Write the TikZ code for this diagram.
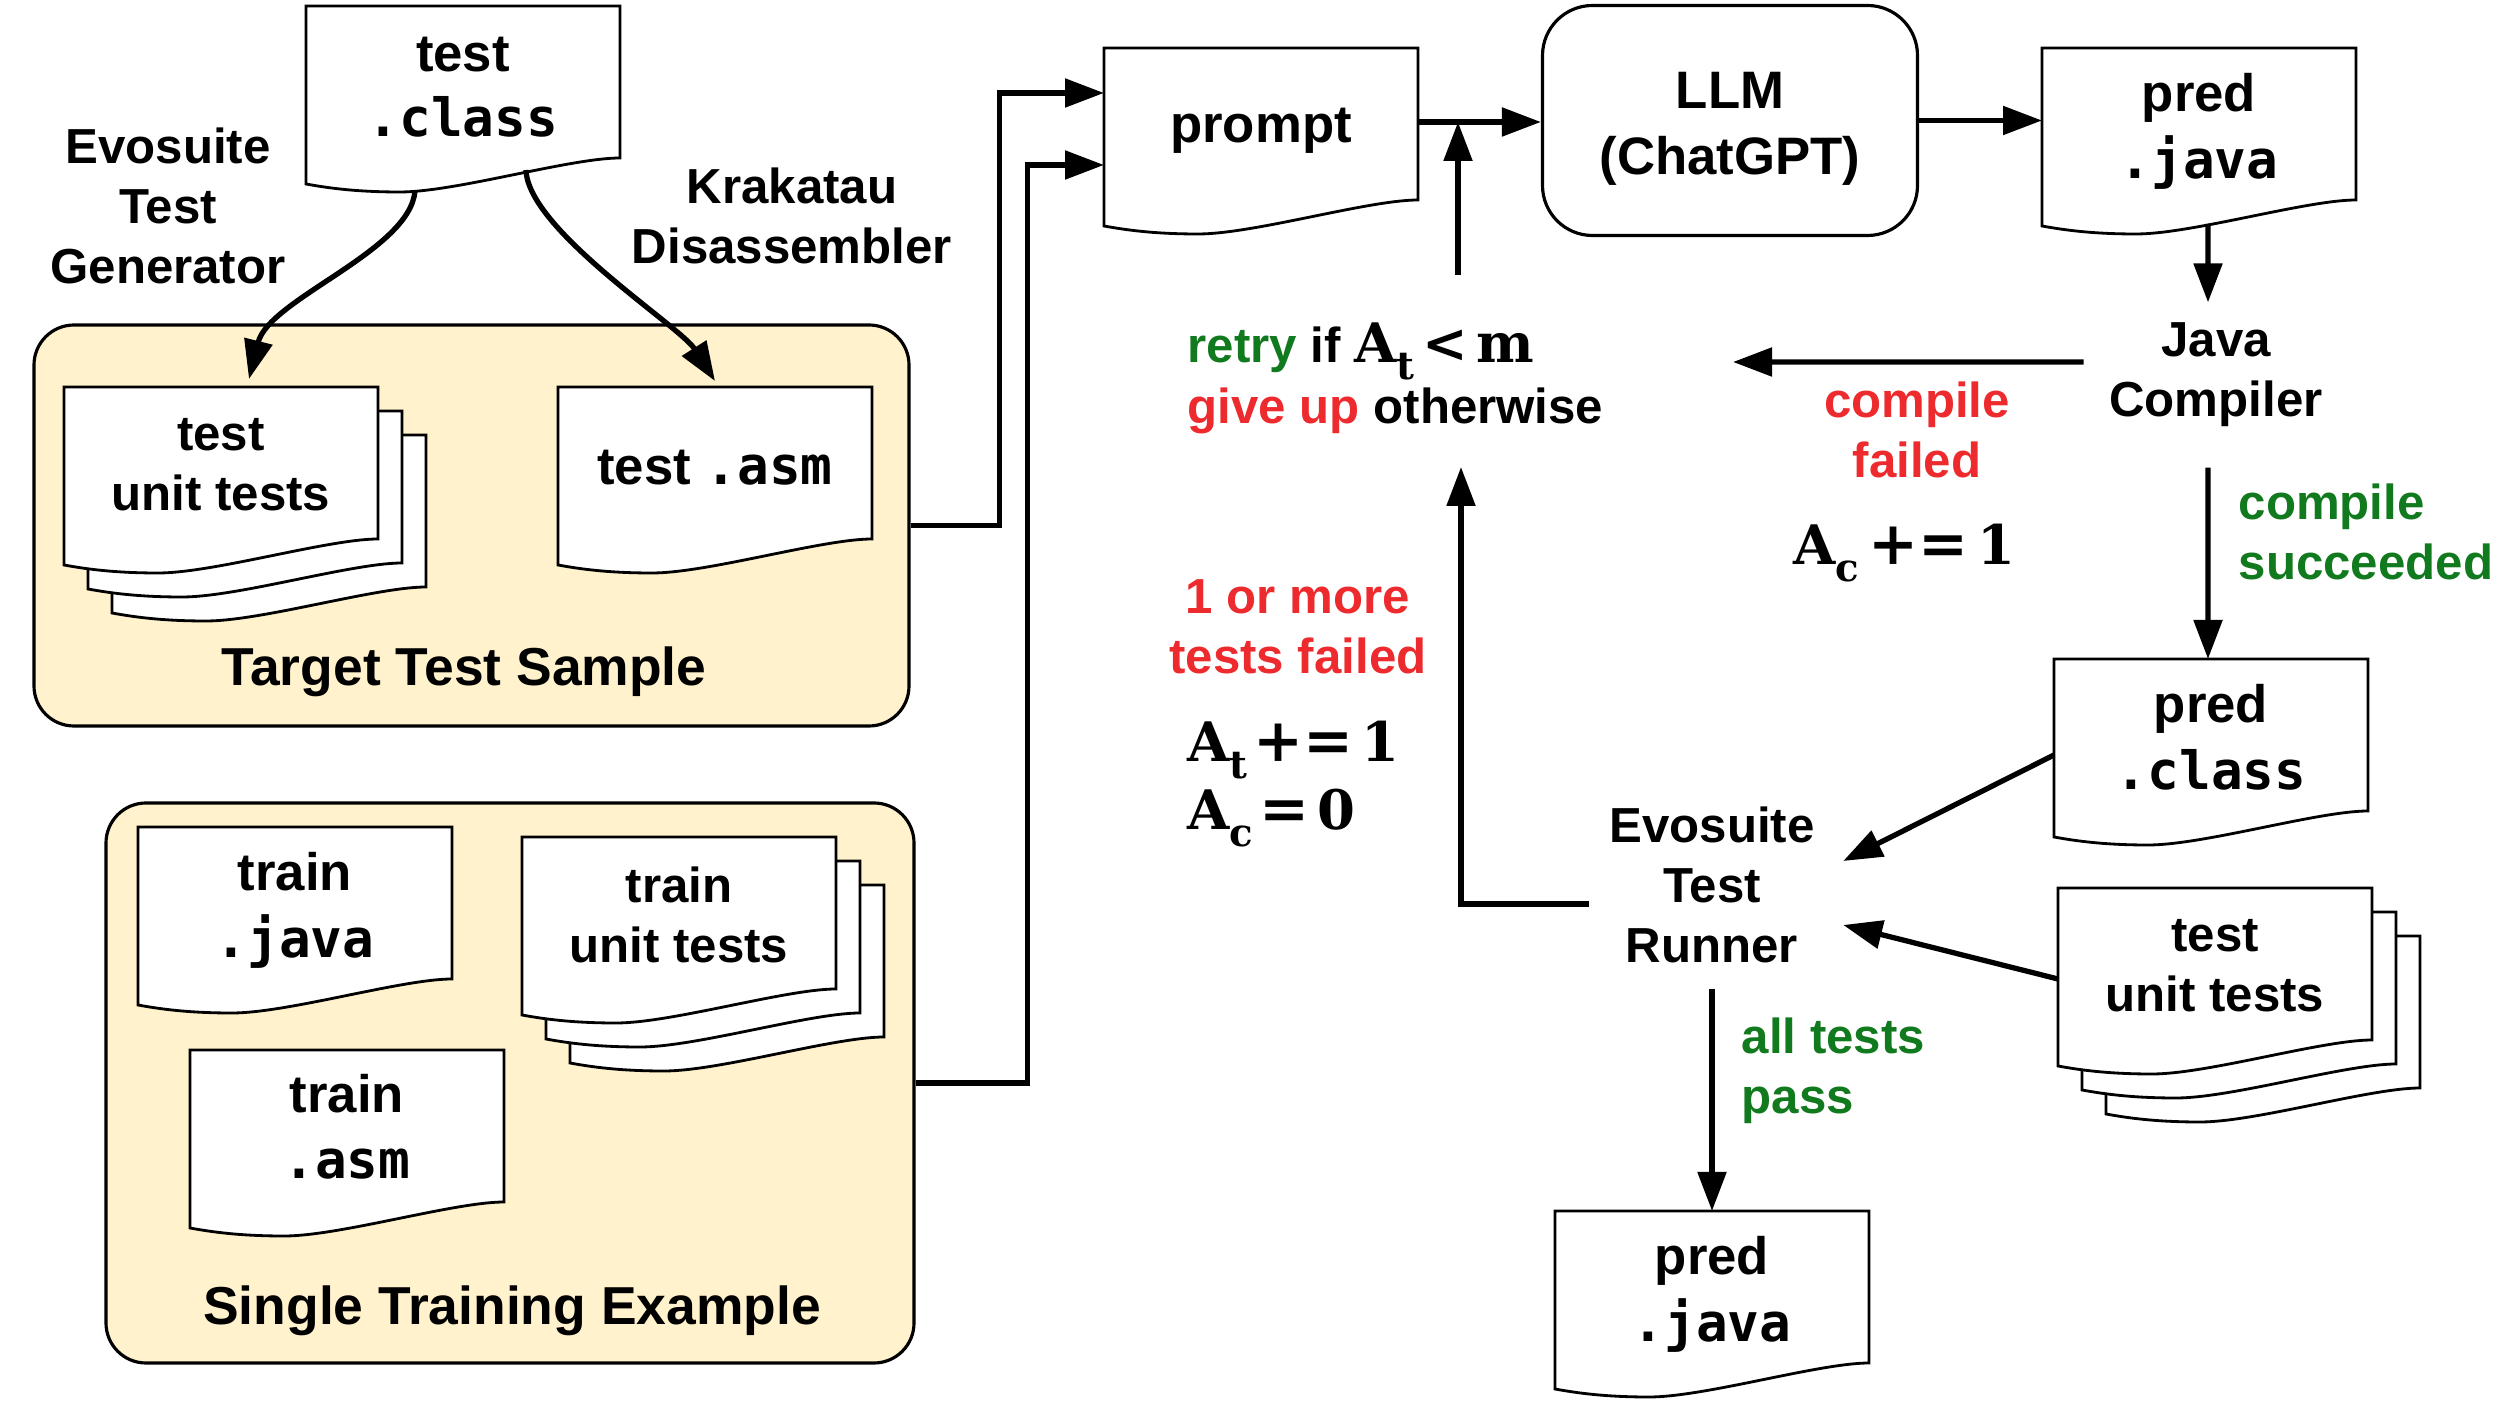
\documentclass[tikz,border=0pt]{standalone}
\usepackage[no-math]{fontspec}
\setmainfont{Liberation Sans}
\newfontfamily\monof{DejaVu Sans Mono}
\newfontfamily\serb{DejaVu Serif}
\usetikzlibrary{arrows.meta,calc}
\definecolor{rgreen}{HTML}{127A1E}
\definecolor{rred}{HTML}{ED2B2E}
\definecolor{cream}{HTML}{FFF2CC}
\pgfdeclarelayer{back}\pgfdeclarelayer{bg}\pgfsetlayers{back,bg,main}
\newcommand\mono[1]{{\monof\bfseries #1}}
\newcommand\mvar[2]{{\serb\bfseries\fontsize{15.5}{19}\selectfont #1\raisebox{-0.17cm}{\fontsize{11}{11}\selectfont #2}}}
\newcommand\mtxt[1]{{\serb\bfseries\fontsize{15.5}{19}\selectfont #1}}
\newcommand\mbig[1]{{\serb\bfseries\fontsize{17}{19}\selectfont #1}}
\newcommand\docout[2][0]{%
  \draw[docline] ($(#2.north west)+(0,#1)$) -- ($(#2.north east)+(0,#1)$) -- ($(#2.south east)+(0,0.04)$)
   .. controls ($(#2.south east)+(-0.5,0.04)$) and ($(#2.south west)+(1.5,-0.30)$) .. ($(#2.south west)+(0.94,-0.30)$)
   .. controls ($(#2.south west)+(0.5,-0.30)$) and ($(#2.south west)+(0.22,-0.26)$) .. ($(#2.south west)+(0,-0.22)$) -- cycle;}
\tikzset{
  txt/.style={font=\fontsize{14}{17}\selectfont\bfseries, align=center, inner sep=0.1cm},
  docnode/.style={font=\fontsize{15}{19}\selectfont\bfseries, align=center, minimum width=3.14cm, minimum height=1.46cm, outer sep=0pt, inner sep=0pt},
  stacknode/.style={docnode, minimum height=1.56cm, font=\fontsize{14}{17}\selectfont\bfseries},
  docline/.style={draw=black, line width=0.8pt, fill=white},
  grp/.style={draw=black, line width=0.9pt, fill=cream, rounded corners=0.4cm},
  grplabel/.style={font=\fontsize{15.2}{18}\selectfont\bfseries, inner sep=0.1cm},
  arr/.style={line width=1.5pt, -{Triangle[length=0.39cm,width=0.28cm]}},
  llmbox/.style={font=\fontsize{15}{19}\selectfont\bfseries, align=center, draw, line width=0.9pt, rounded corners=0.5cm, minimum width=3.75cm, minimum height=2.30cm},
}
\begin{document}
\begin{tikzpicture}
\useasboundingbox (0,0) rectangle (25.08,-14.04);

% group boxes
\begin{pgfonlayer}{back}
\node[grp, minimum width=8.75cm, minimum height=4.01cm] (tts) at (4.715,-5.255) {};
\node[grp, minimum width=8.08cm, minimum height=5.60cm] (ste) at (5.10,-10.83) {};
\end{pgfonlayer}
\node[grplabel] (ttsl) at (4.64,-6.72) {Target Test Sample};
\node[grplabel] (stel) at (5.12,-13.11) {Single Training Example};

% documents
\node[docnode] (tc) at (4.63,-0.89) {test\\[-0.02cm]\mono{.class}\rule[-0.04cm]{0pt}{0.04cm}};
\node[stacknode] (tut3) at (2.69,-5.13) {};
\node[stacknode] (tut2) at (2.45,-4.89) {};
\node[stacknode] (tut) at (2.21,-4.65) {test\\unit tests};
\node[docnode] (tasm) at (7.15,-4.70) {\raisebox{0.05cm}{test \mono{.asm}}};
\node[docnode] (trj) at (2.95,-9.10) {train\\\mono{.java}};
\node[stacknode] (trut3) at (7.27,-9.63) {};
\node[stacknode] (trut2) at (7.03,-9.39) {};
\node[stacknode] (trut) at (6.79,-9.15) {train\\unit tests};
\node[docnode] (tra) at (3.47,-11.33) {train\\\mono{.asm}\rule[-0.13cm]{0pt}{0.13cm}};
\node[docnode] (prompt) at (12.61,-1.31) {prompt};
\node[docnode] (pj) at (21.99,-1.31) {pred\\\mono{.java}};
\node[docnode] (pc) at (22.11,-7.42) {pred\\\mono{.class}\rule[-0.1cm]{0pt}{0.1cm}};
\node[stacknode] (rut3) at (22.63,-10.14) {};
\node[stacknode] (rut2) at (22.39,-9.90) {};
\node[stacknode] (rut) at (22.15,-9.66) {test\\unit tests};
\node[docnode] (pj2) at (17.12,-12.94) {pred\\\mono{.java}};

\begin{pgfonlayer}{bg}
\docout[0.10]{tc}
\docout{tut3}\docout{tut2}\docout{tut}
\docout[0.10]{tasm}
\docout[0.10]{trj}
\docout{trut3}\docout{trut2}\docout{trut}
\docout[0.10]{tra}
\docout[0.10]{prompt}
\docout[0.10]{pj}
\docout[0.10]{pc}
\docout{rut3}\docout{rut2}\docout{rut}
\docout[0.10]{pj2}
\end{pgfonlayer}

\node[llmbox] (llm) at (17.30,-1.205) {\rule{0pt}{0.53cm}LLM\\(ChatGPT)};

% labels
\node[txt] (gen) at (1.68,-2.06) {Evosuite\\Test\\Generator};
\node[txt] (kra) at (7.92,-2.16) {Krakatau\\Disassembler};
\node[txt] (jc) at (22.16,-3.75) {Java\\Compiler};
\node[txt, text=rred] (cfail) at (19.17,-4.30) {compile\\failed};
\node[txt] (acinc) at (19.04,-5.53) {\mvar{A}{c}\hspace{0.1cm}\mbig{+=}\hspace{0.08cm}\mtxt{1}};
\node[txt, text=rgreen, anchor=west, align=left] (csucc) at (22.28,-5.32) {compile\\succeeded};
\node[txt, anchor=west, align=left] (retry) at (11.77,-3.78) {\textcolor{rgreen}{retry} if \mvar{A}{t}\hspace{0.08cm}\mtxt{<}\hspace{0.08cm}\mtxt{m}\\[0.01cm]\textcolor{rred}{give up} otherwise};
\node[txt, text=rred] (tfail) at (12.98,-6.27) {1 or more\\tests failed};
\node[txt, anchor=west, align=left] (atinc) at (11.77,-7.84) {\mvar{A}{t}\hspace{0.06cm}\mbig{+=}\hspace{0.08cm}\mtxt{1}\\[0.08cm]\mvar{A}{c}\hspace{0.06cm}\mbig{=}\hspace{0.08cm}\mtxt{0}};
\node[txt] (runner) at (17.12,-8.85) {Evosuite\\Test\\Runner};
\node[txt, text=rgreen, anchor=west, align=left] (atp) at (17.31,-10.71) {all tests\\pass};

% free ends
\coordinate (pe) at ([yshift=0.09cm]prompt.east);
\coordinate (jn) at (14.58,-1.22);
\coordinate (retrybot) at (14.58,-2.75);
\coordinate (cfend) at (17.33,-3.62);
\coordinate (loopend) at (14.61,-4.67);

% connectors
\draw[arr] ($(tc.south west)+(1.09,-0.29)$) .. controls +(-0.05,-0.6) and +(0.2,0.8) .. ([xshift=0.28cm,yshift=0.08cm]tut.north);
\draw[arr] ($(tc.south west)+(2.20,-0.08)$) .. controls +(0.02,-0.6) and +(-0.35,0.55) .. ([yshift=0.16cm]tasm.north);
\draw[arr] (tts.east) -- ++(0.89,0) |- ([yshift=0.38cm]prompt.west);
\draw[arr] (ste.east) -- ++(1.12,0) |- ([yshift=-0.34cm]prompt.west);
\draw[arr] (pe) -- (pe -| llm.west);
\draw[arr] (llm.east) -- (llm.east -| pj.west);
\draw[arr] (retrybot) -- (jn);
\draw[arr] ($(pj.south)+(0.09,-0.2)$) -- ($(jc.north)+(-0.08,0.10)$);
\draw[arr] ($(jc.west)+(-0.15,0.13)$) -- (cfend);
\draw[arr] ($(jc.south)+(-0.08,-0.30)$) -- ($(pc.north)+(-0.03,0.10)$);
\draw[arr] ($(pc.west)+(0,-0.13)$) -- ($(runner.east)+(0.18,0.24)$);
\draw[arr] ($(rut.west)+(0,-0.13)$) -- ($(runner.east)+(0.18,-0.40)$);
\draw[arr] ($(runner.west)+(-0.1,-0.19)$) -| (loopend);
\draw[arr] ($(runner.south)+(0,-0.15)$) -- ($(pj2.north)+(0,0.10)$);
\end{tikzpicture}
\end{document}
